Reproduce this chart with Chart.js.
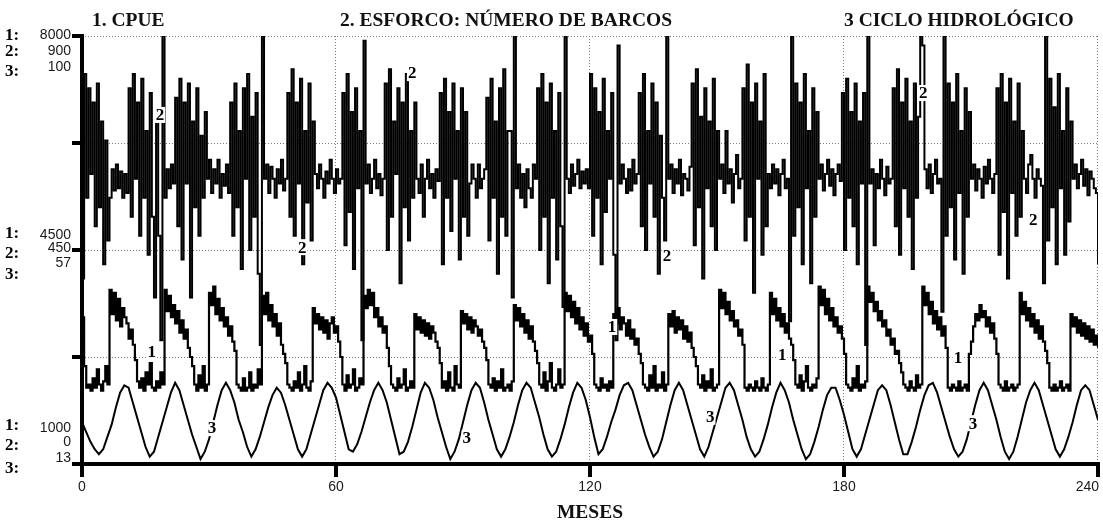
<!DOCTYPE html>
<html>
<head>
<meta charset="utf-8">
<script src="https://cdn.jsdelivr.net/npm/chart.js@4.4.1/dist/chart.umd.min.js"></script>
<style>
  html, body { margin: 0; padding: 0; background: #fff; }
  #wrap { position: relative; width: 1103px; height: 521px; }
</style>
</head>
<body>
<div id="wrap"><canvas id="chart" width="1103" height="521"></canvas></div>
<script>
'use strict';

// ===== data =====
var HALF_MONTH = 0.5;   // step of series 1 and 2
var ONE_MONTH = 1;      // step of series 3
var xTicks = [0, 60, 120, 180, 240];

// 1. CPUE (scale 1000 - 8000), one value per half month
var cpue = [
  3400, 2600,
  2250, 2300, 2200, 2400, 2250, 2550, 2300, 2200, 2350, 2600, 2300,
  3850, 3450, 3800, 3350, 3700, 3250, 3550, 3400, 3300, 3050, 3200, 2950,
  2700, 2350,
  2250, 2400, 2200, 2500, 2300, 2650, 2250, 2200, 2350, 2250, 2500, 2300,
  3850, 3500, 3750, 3400, 3600, 3300, 3500, 3150, 3350, 3050, 3200, 2900, 2750, 2600,
  2300, 2200, 2450, 2250, 2600, 2200, 2300,
  3800, 3600, 3900, 3450, 3700, 3350, 3550, 3250, 3400, 3100, 3250, 3000, 2850,
  2300, 2250, 2200, 2400, 2200, 2250, 2500, 2200, 2300, 2250, 2550, 2300,
  3750, 3450, 3800, 3350, 3600, 3250, 3450, 3100, 3300, 2950, 2800, 2650,
  2300, 2250, 2200, 2350, 2250, 2500, 2200, 2300, 2600, 2250, 2200, 2350,
  3550, 3300, 3450, 3200, 3400, 3150, 3350, 3050, 3300, 3400, 3150, 3250, 3000, 2750,
  2300, 2200, 2450, 2250, 2300, 2550, 2200, 2250, 2400, 2300,
  3750, 3550, 3850, 3600, 3800, 3400, 3550, 3250, 3400, 3150, 3250, 2900,
  2600, 2300, 2250, 2200, 2400, 2250, 2300, 2550, 2200, 2250, 2350, 2250,
  3450, 3200, 3400, 3150, 3350, 3100, 3300, 3050, 3250, 3150, 3000, 2900, 2650,
  2250, 2350, 2200, 2500, 2250, 2200, 2600, 2300, 2250,
  3500, 3300, 3450, 3200, 3400, 3150, 3350, 3250, 3100, 3200, 3000, 2900, 2700,
  2300, 2250, 2400, 2200, 2350, 2250, 2550, 2200, 2250, 2300, 2200, 2350,
  3600, 3350, 3550, 3250, 3450, 3150, 3350, 3050, 3250, 3000, 2850, 2650,
  2300, 2250, 2500, 2200, 2350, 2650, 2250, 2200, 2300, 2550, 2250, 2300,
  3800, 3500, 3750, 3400, 3650, 3300, 3550, 3200, 3400, 3100, 3300, 3000, 3100, 2800,
  2300, 2250, 2200, 2400, 2250, 2300, 2200, 2350, 2250,
  3450, 3300, 3550, 3200, 3400, 3300, 3100, 3350, 3050, 3200, 2950, 3050, 2800, 2650,
  2300, 2250, 2200, 2450, 2250, 2600, 2200, 2300, 2250, 2500, 2200, 2300,
  3450, 3250, 3500, 3150, 3400, 3200, 3350, 3050, 3250, 3000, 3150, 2900, 2750, 2600,
  2300, 2250, 2450, 2200, 2350, 2250, 2550, 2200, 2250, 2300,
  3850, 3550, 3800, 3450, 3650, 3350, 3500, 3250, 3350, 3100, 3200, 2950,
  2250, 2200, 2300, 2250, 2200, 2350, 2250, 2200, 2400, 2250, 2200, 2300,
  3800, 3450, 3700, 3350, 3550, 3250, 3450, 3150, 3300, 3050, 2950, 2700,
  2300, 2250, 2450, 2200, 2350, 2600, 2250, 2200, 2300, 2250, 2400,
  3900, 3600, 3850, 3450, 3700, 3350, 3550, 3250, 3400, 3150, 3250, 3050, 2800,
  2300, 2250, 2200, 2400, 2250, 2600, 2200, 2300, 2250, 2350,
  3900, 3650, 3800, 3500, 3650, 3350, 3500, 3250, 3350, 3100, 3200, 2950, 3050, 2800, 2850, 2650, 2500,
  2300, 2250, 2200, 2350, 2250, 2200, 2450, 2250, 2300,
  3900, 3600, 3800, 3450, 3650, 3300, 3500, 3200, 3400, 3100, 3250, 2900,
  2250, 2200, 2300, 2250, 2200, 2350, 2200, 2250, 2300, 2200,
  2800, 3000, 3250, 3450, 3350, 3600, 3400, 3500, 3250, 3400, 3150, 3300, 3050, 2800,
  2300, 2250, 2200, 2350, 2200, 2250, 2300, 2200, 2250, 2300,
  3800, 3450, 3650, 3350, 3550, 3250, 3450, 3150, 3350, 3050, 3250, 3000, 2850, 2650,
  2250, 2200, 2300, 2200, 2250, 2350, 2200, 2250, 2300, 2200,
  3450, 3250, 3400, 3150, 3350, 3100, 3300, 3050, 3250, 3000, 3200, 2950, 3100, 2900
];

// 2. ESFORCO: numero de barcos (scale 0 - 900), one value per half month
var esforco = [
  390, 820, 560, 790, 610, 760, 500, 800, 540, 720, 420, 680,
  470, 560, 620, 575, 630, 580, 615, 560, 610, 570,
  790, 520, 820, 600, 760, 480, 810, 560, 700, 440, 780, 520, 350, 740, 480, 260,
  900,
  560, 620, 580, 630, 590,
  770, 500, 810, 430, 760, 590, 800, 350, 720, 540, 790, 480, 690, 560, 740,
  600, 640, 570, 620, 590, 640, 560, 610, 585, 630, 570,
  760, 480, 800, 540, 700, 410, 790, 600, 820, 450, 730, 520, 780, 400, 250,
  900,
  600, 630, 570, 625, 600, 560, 620, 590, 640, 575, 600,
  780, 520, 830, 480, 760, 590, 810, 420, 700, 550, 800, 470, 720,
  610, 580, 630, 600, 560, 615, 590, 640, 600, 570, 620, 590, 600,
  780, 460, 820, 530, 740, 410, 790, 580, 700, 260, 890,
  590, 630, 570, 600, 640, 580, 610, 565, 600,
  800, 450, 830, 520, 720, 610, 790, 380, 760, 540, 820, 470, 700, 560, 760,
  600, 570, 630, 520, 600, 640, 580, 610, 560, 620, 595,
  780, 420, 810, 560, 740, 490, 800, 600, 700, 430, 790, 520, 740, 480,
  590, 630, 600, 560, 630, 580, 600, 620,
  770, 470, 810, 560, 720, 400, 790, 520, 830, 480, 700, 700, 350,
  900,
  580, 630, 560, 610, 540, 620, 580, 560, 630, 600,
  790, 450, 820, 520, 760, 380, 800, 560, 700, 430, 780, 500, 330,
  900,
  600, 570, 630, 585, 610, 640, 580, 615, 590,
  620, 580, 820,
  480, 790, 560, 740, 420, 810, 530, 700, 600, 780, 440, 260,
  880,
  590, 630, 600, 570, 620, 575, 640, 590, 610,
  780, 500, 820, 450, 700, 590, 800, 520, 760, 400, 690, 560, 470,
  900,
  600, 630, 570, 620, 590, 640, 565, 610, 600, 575, 625,
  800, 460, 830, 540, 730, 390, 790, 580, 720, 500, 810, 450, 700,
  600, 630, 570, 700, 590, 620, 550, 610, 650, 580, 600,
  790, 470, 840, 520, 760, 360, 800, 600, 720, 440, 820, 500,
  610, 580, 630, 590, 620, 565, 610, 640, 580, 600, 300,
  900,
  480, 800, 540, 760, 420, 820, 580, 700, 380, 790, 520, 740,
  600, 630, 575, 610, 640, 585, 620, 565, 610, 630, 595,
  780, 450, 810, 560, 740, 500, 800, 420, 720, 590, 780, 250,
  900,
  590, 620, 460, 610, 580, 640, 600, 565, 625, 590, 600,
  790, 500, 830, 440, 760, 580, 810, 520, 720, 410, 800, 560, 730,
  900,
  880, 620, 580, 630, 570, 610, 640, 590, 600, 320,
  900,
  480, 800, 540, 760, 430, 820, 570, 700, 400, 790, 520, 740,
  600, 630, 575, 620, 600, 560, 625, 590, 640, 600, 570, 610,
  790, 440, 820, 530, 760, 390, 810, 570, 720, 480, 800, 520, 700,
  600, 570, 630, 650, 600, 560, 620, 600, 585, 380,
  900,
  470, 810, 540, 750, 420, 820, 580, 700, 440, 790, 510, 720,
  600, 630, 580, 610, 640, 585, 620, 565, 615, 600, 580, 570, 420
];

// 3. ciclo hidrologico (scale 13 - 100), one value per month
var ciclo = [
  21.5, 19.5, 17.5, 16, 15, 16, 18.5, 21, 24.5, 27.5, 29, 28.5,
  25.5, 22.5, 19.5, 16.5, 14.5, 15.5, 18.5, 21.5, 24.5, 27.5, 29.5, 28,
  25, 22, 19, 16.5, 14, 15.5, 18, 21.5, 25, 28, 29.5, 28,
  25.5, 22, 19.5, 16.5, 14.5, 16, 18.5, 21.5, 24.5, 27, 28.5, 27.5,
  25, 22, 19, 16, 14.5, 16, 19, 22, 25, 28, 29.5, 28.5,
  26.5, 23, 19.5, 16, 15.5, 17, 19.5, 22.5, 25.5, 28, 29.5, 28,
  25.5, 22, 18.5, 15, 15.5, 17.5, 20.5, 24, 27.5, 29.5, 28.5, 26,
  22.5, 19.5, 16.5, 14, 15.5, 18, 21.5, 25, 28, 29.5, 28.5, 25.5,
  22, 19, 16, 14.5, 16, 18.5, 21.5, 25, 28, 29.5, 28.5, 25.5,
  22.5, 19, 16, 14.5, 15.5, 18, 21, 24.5, 27.5, 29.5, 28.5, 26,
  22.5, 18.5, 15, 16, 18.5, 21.5, 24, 27, 29, 29.5, 28, 25,
  22, 19, 16.5, 14.5, 15.5, 18, 21.5, 25, 28, 29.5, 28, 25,
  22, 19, 16, 14.5, 16.5, 19.5, 22.5, 25.5, 28.5, 29.5, 28, 25,
  22, 18.5, 16, 14.5, 15.5, 18, 21, 24.5, 27.5, 29.5, 28, 25.5,
  22, 19, 16, 14, 15, 17.5, 20.5, 24, 27, 28.5, 28.5, 26,
  23, 19.5, 16, 14.5, 16, 19, 22, 25, 28, 29, 28, 25,
  21.5, 18, 15, 15, 17.5, 20.5, 24, 27, 29, 29.5, 27.5, 24.5,
  21.5, 18.5, 16, 14.5, 15.5, 18, 21.5, 25, 28, 29.5, 28, 25,
  22, 18.5, 15.5, 14, 15.5, 18.5, 22, 25.5, 28, 29.5, 28, 25,
  22, 19, 16, 14.5, 16, 18.5, 21.5, 25, 28, 29, 28, 25,
  22
];

// left axis labels: bottom, middle, top
var scale1Labels = ['1000', '4500', '8000'];
var scale2Labels = ['0', '450', '900'];
var scale3Labels = ['13', '57', '100'];
var gridCpue = [2750, 4500, 6250, 8000]; // quarter lines, in CPUE units

var titles = ['1. CPUE', '2. ESFORCO: NÚMERO DE BARCOS', '3 CICLO HIDROLÓGICO'];
var xTitle = 'MESES';

// curve number tags: [series, month, value on that series' scale]
var curveTags = [
  [2, 18.4, 734], [2, 52.0, 456], [2, 78.0, 822], [2, 138.2, 439], [2, 198.7, 780], [2, 224.7, 513],
  [1, 16.5, 2832], [1, 125.2, 3241], [1, 165.4, 2783], [1, 206.9, 2734],
  [3, 30.7, 20.3], [3, 90.9, 18.3], [3, 148.4, 22.6], [3, 210.5, 21.3]
];

// ===== helpers =====
function toPoints(values, step) {
  return values.map(function (v, i) { return { x: i * step, y: v }; });
}

function line(ctx, x1, y1, x2, y2) {
  ctx.beginPath();
  ctx.moveTo(x1, y1);
  ctx.lineTo(x2, y2);
  ctx.stroke();
}

var SERIF = '"Liberation Serif", "Times New Roman", serif';
var SANS = '"Liberation Sans", Arial, sans-serif';

// ===== Stella style frame: dotted grid, thick axes, stacked scale labels =====
var framePlugin = {
  id: 'stellaFrame',
  beforeDatasetsDraw: function (chart) {
    var ctx = chart.ctx, a = chart.chartArea;
    var sx = chart.scales.x, sy = chart.scales.y1;
    ctx.save();
    ctx.strokeStyle = '#7a7a7a';
    ctx.lineWidth = 1;
    ctx.setLineDash([1, 2]);
    gridCpue.forEach(function (v) {
      var y = Math.round(sy.getPixelForValue(v)) + 0.5;
      line(ctx, a.left, y, a.right, y);
    });
    xTicks.slice(1).forEach(function (m) {
      var x = Math.round(sx.getPixelForValue(m)) - 0.5;
      line(ctx, x, a.top, x, a.bottom);
    });
    ctx.restore();
  },
  afterDatasetsDraw: function (chart) {
    var ctx = chart.ctx, a = chart.chartArea;
    var sx = chart.scales.x, sy = chart.scales.y1;
    ctx.save();
    ctx.strokeStyle = '#000';
    ctx.lineWidth = 4;
    ctx.lineCap = 'butt';
    // left axis + ticks
    line(ctx, a.left, a.top - 2, a.left, a.bottom + 2);
    gridCpue.forEach(function (v) {
      var y = sy.getPixelForValue(v);
      line(ctx, a.left - 10, y, a.left, y);
    });
    // bottom axis + ticks
    line(ctx, a.left - 10, a.bottom, a.right + 2, a.bottom);
    xTicks.forEach(function (m) {
      var x = Math.min(sx.getPixelForValue(m), a.right);
      line(ctx, x, a.bottom, x, a.bottom + 13);
    });

    // x tick labels
    ctx.fillStyle = '#1a1a1a';
    ctx.font = '14px ' + SANS;
    ctx.textBaseline = 'middle';
    xTicks.forEach(function (m, i) {
      var x = sx.getPixelForValue(m);
      if (i === xTicks.length - 1) {
        ctx.textAlign = 'right';
        ctx.fillText(String(m), x + 1, a.bottom + 23);
      } else {
        ctx.textAlign = 'center';
        ctx.fillText(String(m), x, a.bottom + 23);
      }
    });

    // stacked scale labels on the left (offsets as laid out by Stella)
    var groups = [
      { y: sy.getPixelForValue(1000), nums: [-36, -22, -6], tags: [-38, -18, 5], idx: 0 },
      { y: sy.getPixelForValue(4500), nums: [-15, -2, 13], tags: [-16, 4, 25], idx: 1 },
      { y: sy.getPixelForValue(8000), nums: [-1, 15, 31], tags: [0, 16, 36], idx: 2 }
    ];
    groups.forEach(function (g) {
      var vals = [scale1Labels[g.idx], scale2Labels[g.idx], scale3Labels[g.idx]];
      ctx.font = '14px ' + SANS;
      ctx.textAlign = 'right';
      ctx.fillStyle = '#1a1a1a';
      vals.forEach(function (t, k) { ctx.fillText(t, 71, g.y + g.nums[k]); });
      ctx.font = 'bold 17px ' + SERIF;
      ctx.textAlign = 'left';
      ctx.fillStyle = '#000';
      ['1:', '2:', '3:'].forEach(function (t, k) { ctx.fillText(t, 5, g.y + g.tags[k]); });
    });

    // titles
    ctx.font = 'bold 19.5px ' + SERIF;
    ctx.textAlign = 'left';
    ctx.textBaseline = 'alphabetic';
    ctx.fillStyle = '#111';
    ctx.fillText(titles[0], 92, 26);
    ctx.fillText(titles[1], 340, 26);
    ctx.fillText(titles[2], 844, 26);
    ctx.textAlign = 'center';
    ctx.fillText(xTitle, (a.left + a.right) / 2, 518);

    // curve number tags
    ctx.font = 'bold 17px ' + SERIF;
    ctx.textBaseline = 'middle';
    curveTags.forEach(function (t) {
      var px = sx.getPixelForValue(t[1]);
      var py = chart.scales['y' + t[0]].getPixelForValue(t[2]);
      var w = ctx.measureText(String(t[0])).width;
      ctx.fillStyle = '#fff';
      ctx.fillRect(px - w / 2 - 1, py - 8, w + 2, 16);
      ctx.fillStyle = '#000';
      ctx.fillText(String(t[0]), px, py + 1);
    });
    ctx.restore();
  }
};

function seriesStyle(extra) {
  var base = {
    borderColor: '#000',
    borderWidth: 2.2,
    pointRadius: 0,
    tension: 0,
    stepped: true,
    fill: false
  };
  Object.keys(extra).forEach(function (k) { base[k] = extra[k]; });
  return base;
}

var chart = new Chart(document.getElementById('chart').getContext('2d'), {
  type: 'line',
  data: {
    datasets: [
      seriesStyle({ label: '1. CPUE', data: toPoints(cpue, HALF_MONTH), yAxisID: 'y1' }),
      seriesStyle({ label: '2. ESFORCO', data: toPoints(esforco, HALF_MONTH), yAxisID: 'y2',
        borderWidth: 2 }),
      seriesStyle({ label: '3 CICLO', data: toPoints(ciclo, ONE_MONTH), yAxisID: 'y3',
        borderWidth: 2, stepped: false })
    ]
  },
  options: {
    responsive: false,
    animation: false,
    devicePixelRatio: 1,
    layout: { padding: { left: 82, right: 5, top: 36, bottom: 57 } },
    plugins: {
      legend: { display: false },
      tooltip: { enabled: false }
    },
    scales: {
      x: { type: 'linear', min: 0, max: 240, display: false },
      y1: { type: 'linear', min: 1000, max: 8000, display: false },
      y2: { type: 'linear', min: 0, max: 900, display: false },
      y3: { type: 'linear', min: 13, max: 100, display: false }
    }
  },
  plugins: [framePlugin]
});
</script>
</body>
</html>
